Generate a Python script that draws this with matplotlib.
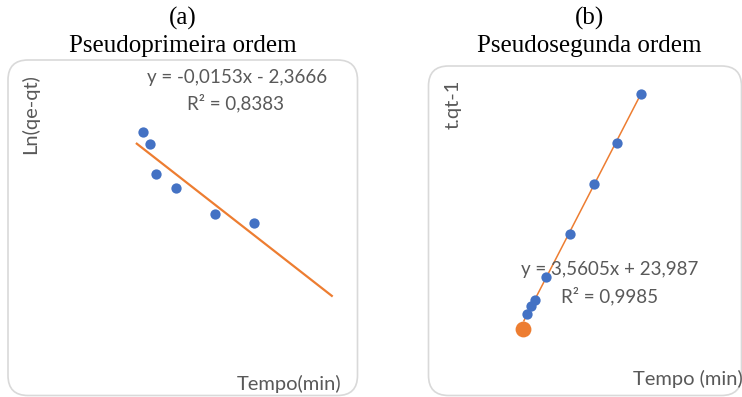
import matplotlib
matplotlib.use("Agg")
import matplotlib.pyplot as plt
from matplotlib.patches import FancyBboxPatch
import numpy as np

# Kinetic data: time (min) vs linearised forms
t_first = [5, 10, 15, 30, 60, 90]
ln_qe_qt = [-2.19, -2.37, -2.83, -3.04, -3.43, -3.56]
first_slope, first_intercept, first_r2 = -0.0153, -2.3666, 0.8383

t_second = [5, 10, 15, 30, 60, 90, 120, 150]
t_over_qt = [46.0, 64.0, 77.0, 131.0, 231.0, 348.0, 443.0, 558.0]
second_slope, second_intercept, second_r2 = 3.5605, 23.987, 0.9985
origin_t, origin_val = [0], [11.0]

panel_tags = ["(a)", "(b)"]
panel_titles = ["Pseudoprimeira ordem", "Pseudosegunda ordem"]
ylabels = ["Ln(qe-qt)", "t.qt-1"]
xlabels = ["Tempo(min)", "Tempo (min)"]

W, H = 742, 397
BLUE, ORANGE, GREY, FRAME = "#4472C4", "#ED7D31", "#595959", "#D9D9D9"
SANS = ["Lato", "DejaVu Sans"]
SERIF = ["Liberation Serif", "DejaVu Serif"]
EQ_SIZE, LABEL_SIZE, TITLE_SIZE = 13.5, 14.5, 18

fig = plt.figure(figsize=(W / 100, H / 100), dpi=100)


def rect(left, top, right, bottom):
    return [left / W, 1 - bottom / H, (right - left) / W, (bottom - top) / H]


def fmt(v, nd):
    return f"{v:.{nd}f}".replace(".", ",")


def frame(left, top, right, bottom, r=20):
    box = FancyBboxPatch((left / 100, (H - bottom) / 100),
                         (right - left) / 100, (bottom - top) / 100,
                         boxstyle=f"round,pad=0,rounding_size={r/100}",
                         transform=fig.dpi_scale_trans, fill=False,
                         edgecolor=FRAME, linewidth=1.2)
    fig.patches.append(box)


def ftext(x, y, s, **kw):
    fig.text(x / W, 1 - y / H, s, **kw)


# Panel frames
frame(8, 60, 357.5, 395.5)
frame(428.5, 66, 741.5, 395.5)

# (a) pseudo-first order
ax1 = fig.add_axes(rect(19.8, 79.6, 351.3, 384.6))
ax1.set_xlim(-90, 165)
ax1.set_ylim(-6, -1.4)
ax1.axis("off")
xx = np.array([0, 150])
ax1.plot(xx, first_slope * xx + first_intercept, color=ORANGE, lw=1.6, zorder=1)
ax1.scatter(t_first, ln_qe_qt, s=55, color=BLUE, zorder=2, linewidths=0)

# (b) pseudo-second order
ax2 = fig.add_axes(rect(436.0, 76.0, 739.4, 384.9))
ax2.set_xlim(-110, 275)
ax2.set_ylim(-120, 600)
ax2.axis("off")
xx2 = np.array([1.5, 150])
ax2.plot(xx2, second_slope * xx2 + second_intercept, color=ORANGE, lw=1.1, zorder=1)
ax2.scatter(t_second, t_over_qt, s=55, color=BLUE, zorder=2, linewidths=0)
ax2.scatter(origin_t, origin_val, s=130, color=ORANGE, zorder=3, linewidths=0)

# Titles
for cx, tag, title in zip([183, 589], panel_tags, panel_titles):
    ftext(cx, 18, tag, ha="center", va="center", fontsize=TITLE_SIZE, family=SERIF)
    ftext(cx, 46, title, ha="center", va="center", fontsize=TITLE_SIZE, family=SERIF)

# Trendline equations
eq1 = f"y = {fmt(first_slope, 4)}x - {fmt(-first_intercept, 4)}"
ftext(237, 78, eq1, ha="center", va="center", fontsize=EQ_SIZE, color=GREY, family=SANS)
ftext(235.5, 103, f"R² = {fmt(first_r2, 4)}", ha="center", va="center",
      fontsize=EQ_SIZE, color=GREY, family=SANS)
eq2 = f"y = {fmt(second_slope, 4)}x + {fmt(second_intercept, 3)}"
ftext(610, 270, eq2, ha="center", va="center", fontsize=EQ_SIZE, color=GREY, family=SANS)
ftext(609.5, 296, f"R² = {fmt(second_r2, 4)}", ha="center", va="center",
      fontsize=EQ_SIZE, color=GREY, family=SANS)

# Axis titles
ftext(30, 114, ylabels[0], ha="center", va="center", rotation=90,
      fontsize=LABEL_SIZE, color=GREY, family=SANS)
ftext(453, 104, ylabels[1], ha="center", va="center", rotation=90,
      fontsize=LABEL_SIZE, color=GREY, family=SANS)
ftext(289.5, 384, xlabels[0], ha="center", va="center", fontsize=LABEL_SIZE,
      color=GREY, family=SANS)
ftext(633, 379, xlabels[1], ha="left", va="center", fontsize=LABEL_SIZE,
      color=GREY, family=SANS)

fig.savefig("out.png", dpi=100)
